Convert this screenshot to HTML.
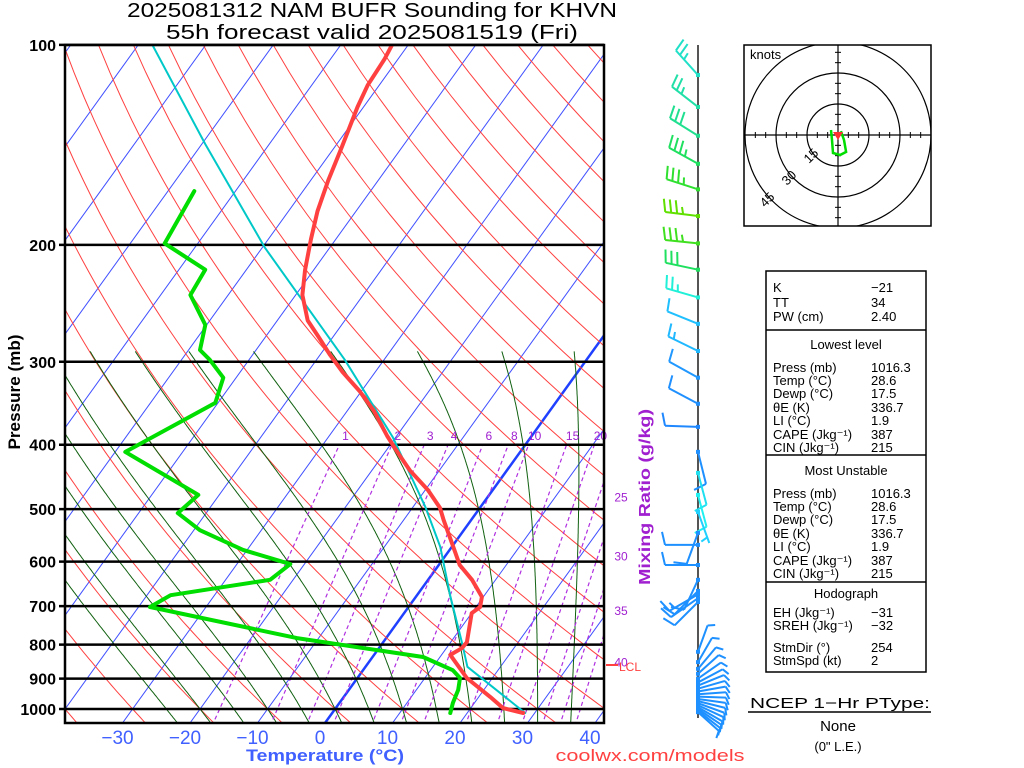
<!DOCTYPE html>
<html><head><meta charset="utf-8"><style>
html,body{margin:0;padding:0;background:#fff;}
svg{display:block;font-family:"Liberation Sans",sans-serif;}
</style></head><body>
<svg id="c" width="1024" height="768" viewBox="0 0 1024 768" xmlns="http://www.w3.org/2000/svg">
<defs><clipPath id="plotclip"><rect x="65" y="45" width="539" height="678"/></clipPath>
<clipPath id="hodoclip"><rect x="744" y="45" width="187" height="181"/></clipPath></defs>
<rect width="1024" height="768" fill="#fff"/>
<g font-size="20" fill="#000" text-anchor="middle">
<text x="372" y="17" textLength="490" lengthAdjust="spacingAndGlyphs">2025081312 NAM BUFR Sounding for KHVN</text>
<text x="372" y="39" textLength="412" lengthAdjust="spacingAndGlyphs">55h forecast valid 2025081519 (Fri)</text>
</g>
<g id="bg" clip-path="url(#plotclip)"></g>
<g id="iso"></g>
<g id="prof" clip-path="url(#plotclip)"></g>
<g id="labels"></g>
<rect x="65" y="45" width="539" height="678" fill="none" stroke="#000" stroke-width="2.5"/>
<text x="325" y="761" font-size="17" font-weight="bold" fill="#4060ff" text-anchor="middle" textLength="158" lengthAdjust="spacingAndGlyphs">Temperature (°C)</text>
<text transform="translate(20,392) rotate(-90)" font-size="17" font-weight="bold" text-anchor="middle" textLength="115" lengthAdjust="spacingAndGlyphs">Pressure (mb)</text>
<text transform="translate(650,497) rotate(-90)" font-size="16" font-weight="bold" fill="#a020d0" text-anchor="middle" textLength="176" lengthAdjust="spacingAndGlyphs">Mixing Ratio (g/kg)</text>
<text x="650" y="761" font-size="17" fill="#ff4040" text-anchor="middle" textLength="189" lengthAdjust="spacingAndGlyphs">coolwx.com/models</text>
<g><line x1="606" y1="665" x2="618" y2="665" stroke="#ff4040" stroke-width="2"/><text x="619" y="671" font-size="12" fill="#ff4040">LCL</text></g>
<line x1="698" y1="45" x2="698" y2="718" stroke="#555" stroke-width="2"/>
<g id="barbs"></g>
<g>
<rect x="744" y="45" width="187" height="181" fill="#fff" stroke="#000" stroke-width="1.5"/>
<g id="hodo" clip-path="url(#hodoclip)"></g>
<text x="750" y="59" font-size="13">knots</text>
</g>
<g font-size="13" fill="#000">
<rect x="766" y="271" width="160" height="401" fill="none" stroke="#000" stroke-width="1.5"/>
<line x1="766" y1="330" x2="926" y2="330" stroke="#000" stroke-width="1.5"/>
<line x1="766" y1="455" x2="926" y2="455" stroke="#000" stroke-width="1.5"/>
<line x1="766" y1="582" x2="926" y2="582" stroke="#000" stroke-width="1.5"/>
<g id="stats"></g>
</g>
<g font-size="15" text-anchor="middle">
<text x="840" y="708" textLength="180" lengthAdjust="spacingAndGlyphs">NCEP 1−Hr PType:</text>
<line x1="748" y1="712" x2="931" y2="712" stroke="#000" stroke-width="1.5"/>
<text x="838" y="731">None</text>
<text x="838" y="751" font-size="13">(0" L.E.)</text>
</g>
</svg>
<script>
// ---- data ----
var tempP=[1014,997,959,898,829,810,793,717,702,678,639,607,566,519,498,468,437,415,388,356,332,311,293,274,260,238,218,196,178,160,143,124,115,105,100];
var tempC=[28.3,24.8,21.7,16.2,11.3,12.3,12.4,10.0,10.6,9.8,6.5,3.1,-0.1,-4.1,-5.9,-9.6,-14.4,-17.5,-21.4,-26,-30.3,-34.8,-38.5,-42.4,-45.5,-49,-51.3,-53.7,-55.7,-57.4,-58.9,-60.9,-61.7,-62,-62.4];
var dewP=[1014,979,936,898,874,835,782,702,674,639,605,576,538,507,476,410,346,317,298,288,264,238,218,199,166];
var dewC=[17.5,16.8,16.2,15.2,13.3,7.5,-13.2,-38.3,-36.5,-23.4,-22.1,-30.6,-39.1,-44.2,-43.1,-58.5,-50.4,-51.9,-55.8,-58.3,-60.2,-65.6,-66.1,-74.9,-76.1];
var parcelP=[1014,864,796,674,570,496,390,298,202,141,100];
var parcelC=[28.6,15.1,11.8,4.9,-1.7,-8.2,-20.4,-35.8,-59.6,-79.5,-97.9];
var isobarP=[100,200,300,400,500,600,700,800,900,1000];
var tempTicks=[-30,-20,-10,0,10,20,30,40];
var mixRatios=[1,2,3,4,6,8,10,15,20,25,30,35,40];
var moistStartC=[-25,-20,-15,-10,-5,0,5,10,15,20,25,30,35];
var barbP=[111,124,137,151,165,181,199,218,240,263,289,317,347,376,410,441,476,505,543,566,607,639,664,672,681,690,
 820,850,870,885,900,912,922,932,941,950,958,966,973,980,987,994,1000,1006,1011];
var barbDir=[318,308,302,299,288,277,276,282,286,292,296,299,298,272,166,165,165,160,200,270,270,205,225,240,235,225,
 20,30,40,48,55,62,68,74,80,86,92,98,104,110,115,120,124,128,132];
var barbSpd=[25,25,30,35,35,35,35,30,25,10,15,10,10,10,10,10,10,5,10,10,10,10,10,15,10,10,
 10,10,10,10,10,10,10,10,10,10,10,10,10,10,10,10,10,10,10];
var barbCol=["#20e0c8","#20e0a8","#20e090","#20e060","#30e030","#60e000","#40e020","#20e060","#20f0d8","#20c0ff","#20b8ff","#2098ff","#2090ff","#2088ff","#1e90ff","#20e0f0","#20f0f0","#20d0ff","#1e90ff","#1e90ff","#1e90ff","#1e90ff","#1e90ff","#1e90ff","#1e90ff","#1e90ff"];
var hodoU=[-3.4,-2.9,-2.4,1.0,3.9,2.9,1.4];
var hodoV=[2.4,-2.4,-8.7,-9.7,-8.2,-2.4,1.9];
var hodoRings=[15,30,45];
var statLabels=[["K","−21",287],["TT","34",302],["PW (cm)","2.40",316],
["Press (mb)","1016.3",367],["Temp (°C)","28.6",380],["Dewp (°C)","17.5",393],["θE (K)","336.7",407],["LI (°C)","1.9",420],["CAPE (Jkg⁻¹)","387",434],["CIN (Jkg⁻¹)","215",447],
["Press (mb)","1016.3",493],["Temp (°C)","28.6",506],["Dewp (°C)","17.5",519],["θE (K)","336.7",533],["LI (°C)","1.9",546],["CAPE (Jkg⁻¹)","387",560],["CIN (Jkg⁻¹)","215",573],
["EH (Jkg⁻¹)","−31",612],["SREH (Jkg⁻¹)","−32",625],["StmDir (°)","254",647],["StmSpd (kt)","2",660]];
var statHeads=[["Lowest level",344],["Most Unstable",470],["Hodograph",593]];

// ---- axes ----
var NS="http://www.w3.org/2000/svg";
function Y(p){return 709-288.4*Math.log(1000/p);}
function X(t,p){return 325+6.75*t+0.72*(723-Y(p));}
function mk(tag,attrs,parent){var e=document.createElementNS(NS,tag);for(var k in attrs)e.setAttribute(k,attrs[k]);parent.appendChild(e);return e;}
function poly(pts){return pts.map(function(q){return q[0].toFixed(1)+","+q[1].toFixed(1);}).join(" ");}
var bg=document.getElementById('bg'),prof=document.getElementById('prof'),iso=document.getElementById('iso'),lab=document.getElementById('labels');

for(var t=-150;t<=50;t+=10){
  var l=mk('line',{x1:X(t,1060),y1:Y(1060),x2:X(t,95),y2:Y(95),stroke:t==0?'#2040ff':'#4050ff','stroke-width':t==0?2.5:1},bg);
  
  
}
for(var th=-60;th<=220;th+=10){
  var pts=[];for(var p=1060;p>=95;p-=10){pts.push([X((th+273.15)*Math.pow(p/1000,0.286)-273.15,p),Y(p)]);}
  var da=mk('polyline',{points:poly(pts),fill:'none',stroke:'#ff4040','stroke-width':1},bg);
  
  
}
function esat(T){return 6.112*Math.exp(17.67*T/(T+243.5));}
function grad(T,p){var e=esat(T-273.15);var rs=0.622*e/(p-e);return (287*T+2.5e6*rs)/(1004+2.5e6*2.5e6*rs*0.622/(287*T*T));}
function moist(t0){
  var dl=0.005,T=t0+273.15,p=1000,low=[];
  while(p<1060){T+=grad(T,p)*dl;p*=Math.exp(dl);low.unshift([X(T-273.15,p),Y(p)]);}
  var pts=low.concat([[X(t0,1000),Y(1000)]]);
  T=t0+273.15;p=1000;
  while(p>290){T-=grad(T,p)*dl;p*=Math.exp(-dl);pts.push([X(T-273.15,p),Y(p)]);}
  return pts;
}
moistStartC.forEach(function(t0){
  var e=mk('polyline',{points:poly(moist(t0)),fill:'none',stroke:'#106010','stroke-width':1},bg);
  
  
});
function tdw(w,p){var e=w*p/(622+w);var a=Math.log(e/6.112);return 243.5*a/(17.67-a);}
mixRatios.forEach(function(w){
  var e=mk('line',{x1:X(tdw(w,1060),1060),y1:Y(1060),x2:X(tdw(w,400),400),y2:Y(400),stroke:'#b030e0','stroke-width':1.2,'stroke-dasharray':'4,3'},bg);
  
  
  var xt=X(tdw(w,400),400),tx,ty;
  if(xt<604){tx=xt+6;ty=440;}else{
    var lo=400,hi=1060;for(var i=0;i<40;i++){var m=(lo+hi)/2;if(X(tdw(w,m),m)>604)lo=m;else hi=m;}
    tx=621;ty=Y(lo)+22+(w-25);}
  var tt=mk('text',{x:tx,y:ty,'font-size':12,fill:'#a020d0','text-anchor':'middle'},lab);tt.textContent=w;
  
  
});
isobarP.forEach(function(p){
  var y=Y(p);
  var e=mk('line',{x1:59,y1:y,x2:604,y2:y,stroke:'#000','stroke-width':2.5},iso);
  
  
  var t=mk('text',{x:56,y:y+6,'font-size':16,'font-weight':'bold','text-anchor':'end'},lab);t.textContent=p;
  
  
});
tempTicks.forEach(function(t){
  var x=325+6.75*t-5;
  var e=mk('text',{x:x,y:744,'font-size':19,fill:'#4060ff','text-anchor':'middle'},lab);e.textContent=(t<0?'−':'')+Math.abs(t);
  
  
});
function prof_line(P,C,col,w,name){
  var pts=P.map(function(p,i){return [X(C[i],p),Y(p)];});
  var e=mk('polyline',{points:poly(pts),fill:'none',stroke:col,'stroke-width':w,'stroke-linejoin':'round','stroke-linecap':'round'},prof);
  
  
}
prof_line(parcelP,parcelC,'#00c8c8',2,'parcel-trace');
prof_line(dewP,dewC,'#00dd00',4,'dewpoint-profile');
prof_line(tempP,tempC,'#ff4040',4,'temperature-profile');
var bb=document.getElementById('barbs');
barbP.forEach(function(p,i){
  var y=Y(p),x=698,d=barbDir[i]*Math.PI/180,s=barbSpd[i],col=barbCol[i]||'#1e90ff';
  var ux=Math.sin(d),uy=-Math.cos(d),L=i>=26?28:33;
  var g=mk('g',{stroke:col,'stroke-width':2,fill:'none'},bb);
  
  
  var tx=x+ux*L,ty=y+uy*L;
  mk('line',{x1:x,y1:y,x2:tx,y2:ty},g);
  var fx=-uy,fy=ux,pos=0,n10=Math.floor(s/10),n5=(s%10)>=5?1:0,fl=i>=26?7:13;
  for(var k=0;k<n10;k++){var px=tx-ux*pos,py=ty-uy*pos;mk('line',{x1:px,y1:py,x2:px+fx*fl+ux*3,y2:py+fy*fl+uy*3},g);pos+=6;}
  if(n5){if(n10==0)pos=6;var px2=tx-ux*pos,py2=ty-uy*pos;mk('line',{x1:px2,y1:py2,x2:px2+fx*7+ux*2,y2:py2+fy*7+uy*2},g);}
  mk('rect',{x:x-2,y:y-2,width:4,height:4,fill:col,stroke:'none'},g);
});
var hd=document.getElementById('hodo'),cx=838,cy=135,sc=31/15;
hodoRings.forEach(function(r){var c=mk('circle',{cx:cx,cy:cy,r:r*sc,fill:'none',stroke:'#000','stroke-width':1.2},hd);});
mk('line',{x1:744,y1:cy,x2:931,y2:cy,stroke:'#000','stroke-width':1.2},hd);
mk('line',{x1:cx,y1:45,x2:cx,y2:226,stroke:'#000','stroke-width':1.2},hd);
for(var k=-9;k<=9;k++){if(k==0)continue;var o=k*5*sc;
  mk('line',{x1:cx+o,y1:cy-3,x2:cx+o,y2:cy+3,stroke:'#000','stroke-width':1},hd);
  mk('line',{x1:cx-3,y1:cy+o,x2:cx+3,y2:cy+o,stroke:'#000','stroke-width':1},hd);}
hodoRings.forEach(function(r){var rr=r*sc*0.707;var t=mk('text',{transform:'translate('+(cx-rr-2)+','+(cy+rr+2)+') rotate(-45)','font-size':13,'text-anchor':'middle'},hd);t.textContent=r;
  
  });
var hp=hodoU.map(function(u,i){return [cx+u*sc,cy-hodoV[i]*sc];});
var ht=mk('polyline',{points:poly(hp),fill:'none',stroke:'#00dd00','stroke-width':2.5},hd);


mk('polygon',{points:(cx-5)+','+(cy-3)+' '+(cx+5)+','+(cy-3)+' '+cx+','+(cy+5),fill:'#ff3030'},hd);
var st=document.getElementById('stats');
statLabels.forEach(function(r){
  var a=mk('text',{x:773,y:r[2]+5},st);a.textContent=r[0];
  
  
  var b=mk('text',{x:871,y:r[2]+5},st);b.textContent=r[1];
  
  
});
statHeads.forEach(function(h){var t=mk('text',{x:846,y:h[1]+5,'text-anchor':'middle'},st);t.textContent=h[0];
  
  });
</script>
</body></html>
